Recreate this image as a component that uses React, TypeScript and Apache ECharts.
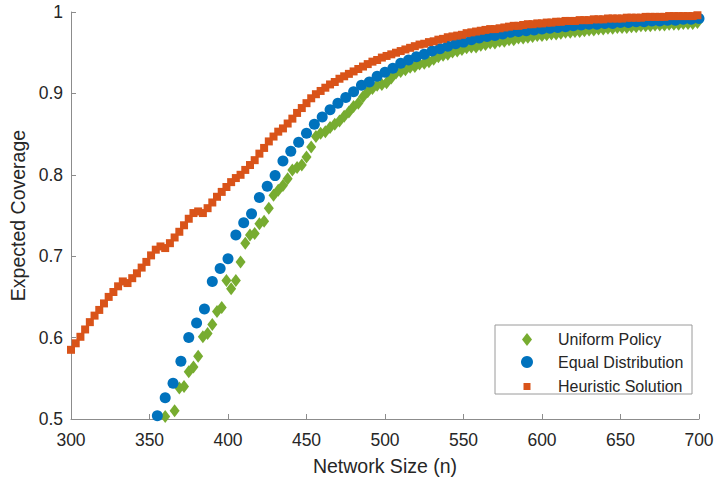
import React, { useEffect, useRef } from "react";
import * as echarts from "echarts";

// Heuristic Solution: n = 300, 303, ..., 699
const heuristicStart = 300;
const heuristicStep = 3;
const heuristicValues = [
  0.585, 0.593, 0.601, 0.61, 0.619, 0.627, 0.634, 0.642, 0.65, 0.656,
  0.663, 0.669, 0.667, 0.673, 0.679, 0.686, 0.693, 0.701, 0.708, 0.712,
  0.71, 0.716, 0.723, 0.73, 0.738, 0.746, 0.753, 0.755, 0.753, 0.759,
  0.766, 0.773, 0.779, 0.785, 0.791, 0.796, 0.8, 0.806, 0.812, 0.818,
  0.826, 0.833, 0.841, 0.847, 0.853, 0.857, 0.863, 0.869, 0.876, 0.882,
  0.888, 0.894, 0.899, 0.903, 0.907, 0.911, 0.914, 0.918, 0.921, 0.924,
  0.927, 0.93, 0.933, 0.936, 0.939, 0.941, 0.944, 0.946, 0.948, 0.95,
  0.952, 0.954, 0.956, 0.958, 0.96, 0.961, 0.963, 0.964, 0.966, 0.967,
  0.969, 0.97, 0.971, 0.972, 0.974, 0.975, 0.976, 0.977, 0.978, 0.979,
  0.979, 0.98, 0.981, 0.982, 0.983, 0.983, 0.984, 0.985, 0.985, 0.986,
  0.986, 0.987, 0.987, 0.988, 0.988, 0.989, 0.989, 0.989, 0.99, 0.99,
  0.99, 0.991, 0.991, 0.991, 0.992, 0.992, 0.992, 0.992, 0.993, 0.993,
  0.993, 0.993, 0.994, 0.994, 0.994, 0.994, 0.994, 0.995, 0.995, 0.995,
  0.995, 0.995, 0.995, 0.996,
];

// Equal Distribution: n = 355, 360, ..., 700
const equalStart = 355;
const equalStep = 5;
const equalValues = [
  0.504, 0.526, 0.544, 0.571, 0.6, 0.618, 0.635, 0.669, 0.685, 0.697,
  0.726, 0.741, 0.752, 0.772, 0.786, 0.799, 0.817, 0.829, 0.84, 0.851,
  0.862, 0.871, 0.88, 0.888, 0.895, 0.902, 0.91, 0.914, 0.921, 0.926,
  0.931, 0.937, 0.941, 0.945, 0.948, 0.952, 0.955, 0.958, 0.961, 0.963,
  0.966, 0.968, 0.97, 0.971, 0.973, 0.975, 0.976, 0.977, 0.978, 0.979,
  0.98, 0.981, 0.982, 0.983, 0.984, 0.985, 0.985, 0.986, 0.986, 0.987,
  0.987, 0.988, 0.988, 0.989, 0.989, 0.99, 0.99, 0.991, 0.991, 0.992,
];

// Uniform Policy: n = 360, 363, ..., 699
const uniformStart = 360;
const uniformStep = 3;
const uniformValues = [
  0.503, 0.497, 0.51, 0.538, 0.54, 0.558, 0.564, 0.577, 0.601, 0.605,
  0.616, 0.632, 0.637, 0.67, 0.66, 0.67, 0.693, 0.716, 0.726, 0.728,
  0.74, 0.743, 0.759, 0.775, 0.781, 0.787, 0.795, 0.806, 0.809, 0.812,
  0.822, 0.834, 0.847, 0.851, 0.853, 0.858, 0.862, 0.866, 0.872, 0.877,
  0.884, 0.888, 0.896, 0.902, 0.906, 0.91, 0.911, 0.913, 0.919, 0.925,
  0.927, 0.929, 0.932, 0.933, 0.936, 0.937, 0.939, 0.942, 0.945, 0.947,
  0.948, 0.951, 0.952, 0.954, 0.956, 0.957, 0.957, 0.959, 0.96, 0.962,
  0.962, 0.964, 0.964, 0.966, 0.966, 0.968, 0.968, 0.969, 0.97, 0.971,
  0.971, 0.972, 0.973, 0.973, 0.974, 0.975, 0.975, 0.976, 0.976, 0.977,
  0.978, 0.978, 0.979, 0.979, 0.98, 0.98, 0.981, 0.981, 0.981, 0.982,
  0.982, 0.983, 0.983, 0.983, 0.984, 0.984, 0.984, 0.985, 0.985, 0.985,
  0.986, 0.986, 0.986, 0.987,
];

const seriesNames = ["Uniform Policy", "Equal Distribution", "Heuristic Solution"];
const seriesColors = ["#77AC30", "#0072BD", "#D95319"];
const xTitle = "Network Size (n)";
const yTitle = "Expected Coverage";

const toPairs = (start: number, step: number, vals: number[]) =>
  vals.map((v, i) => [start + i * step, v]);

const FONT = "'Liberation Sans', Arial, Helvetica, sans-serif";
const TEXT = "#262626";
const AXIS = "#8c8c8c";

export default function App() {
  const ref = useRef<HTMLDivElement>(null);
  useEffect(() => {
    if (!ref.current) return;
    const chart = echarts.init(ref.current, undefined, { renderer: "svg" });
    const legendRow = (name: string, icon: string, w: number, h: number, cy: number, pad: number) => ({
      data: [{ name, icon }],
      left: 527 - w / 2,
      top: cy - h / 2,
      itemWidth: w,
      itemHeight: h,
      padding: 0,
      selectedMode: false,
      z: 6,
      textStyle: { fontSize: 16, color: TEXT, fontFamily: FONT, lineHeight: h, padding: [0, 0, 0, pad] },
    });
    chart.setOption({
      animation: false,
      textStyle: { fontFamily: FONT },
      grid: { left: 71, right: 17, top: 12, bottom: 63, outerBoundsMode: "none" },
      xAxis: {
        type: "value",
        min: 300,
        max: 700,
        interval: 50,
        name: xTitle,
        nameLocation: "middle",
        nameGap: 37,
        nameTextStyle: { fontSize: 19.5, color: TEXT, fontFamily: FONT },
        axisLine: { show: true, lineStyle: { color: AXIS, width: 1 } },
        axisTick: { show: true, inside: true, length: 5, lineStyle: { color: AXIS } },
        axisLabel: { fontSize: 17.5, color: TEXT, margin: 12, fontFamily: FONT },
        splitLine: { show: false },
      },
      yAxis: {
        type: "value",
        min: 0.5,
        max: 1,
        interval: 0.1,
        name: yTitle,
        nameLocation: "middle",
        nameRotate: 90,
        nameGap: 39,
        nameTextStyle: { fontSize: 19.5, color: TEXT, fontFamily: FONT },
        axisLine: { show: true, lineStyle: { color: AXIS, width: 1 } },
        axisTick: { show: true, inside: true, length: 5, lineStyle: { color: AXIS } },
        axisLabel: { fontSize: 17.5, color: TEXT, margin: 8, fontFamily: FONT },
        splitLine: { show: false },
      },
      legend: [
        legendRow(seriesNames[0], "diamond", 10, 13, 338, 21),
        legendRow(seriesNames[1], "circle", 12, 12, 360, 20),
        legendRow(seriesNames[2], "rect", 7, 7, 382, 22.5),
      ],
      graphic: [
        {
          type: "rect",
          z: 5,
          shape: { x: 495, y: 325, width: 197, height: 69 },
          style: { fill: "#ffffff", stroke: "#9a9a9a", lineWidth: 1 },
        },
      ],
      series: [
        {
          type: "scatter",
          name: seriesNames[0],
          data: toPairs(uniformStart, uniformStep, uniformValues),
          symbol: "diamond",
          symbolSize: [10, 13],
          itemStyle: { color: seriesColors[0], opacity: 1 },
          clip: true,
          z: 2,
        },
        {
          type: "scatter",
          name: seriesNames[1],
          data: toPairs(equalStart, equalStep, equalValues),
          symbol: "circle",
          symbolSize: 11,
          itemStyle: { color: seriesColors[1], opacity: 1 },
          clip: true,
          z: 3,
        },
        {
          type: "scatter",
          name: seriesNames[2],
          data: toPairs(heuristicStart, heuristicStep, heuristicValues),
          symbol: "rect",
          symbolSize: 8,
          itemStyle: { color: seriesColors[2], opacity: 1 },
          clip: false,
          z: 4,
        },
      ],
    });
    return () => chart.dispose();
  }, []);
  return (
    <div
      ref={ref}
      style={{ position: "fixed", left: 0, top: 0, width: 716, height: 482, background: "#fff" }}
    />
  );
}
